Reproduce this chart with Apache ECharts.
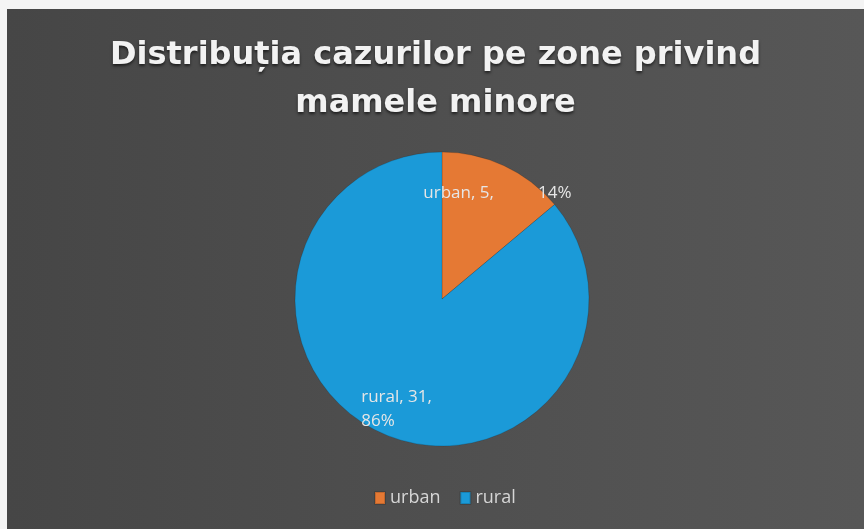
<!DOCTYPE html>
<html>
<head>
<meta charset="utf-8">
<script src="https://cdn.jsdelivr.net/npm/echarts@6/dist/echarts.min.js"></script>
<style>
  html, body { margin: 0; padding: 0; background: #f4f4f4; }
  #chart { position: absolute; left: 7px; top: 9px; width: 857px; height: 520px; }
</style>
</head>
<body>
<div id="chart"></div>
<script>
// values
var zones = ['urban', 'rural'];
var cases = [5, 31];
var zoneColors = ['#e57934', '#1b9ad8'];
var chartTitle = 'Distribuția cazurilor pe zone privind\nmamele minore';

var chartEl = document.getElementById('chart');
var myChart = echarts.init(chartEl);

var pieCenter = [435, 290];
var pieRadius = 147;

var pieData = zones.map(function (name, i) {
	return {
		name: name,
		value: cases[i],
		itemStyle: { color: zoneColors[i] },
		label: {
			// Excel style "name, value, percent"
			formatter: i === 0 ? '{b}, {c},          {d}%' : '{b}, {c},\n{d}%'
		}
	};
});

var option = {
	backgroundColor: {
		type: 'linear', x: 0, y: 0, x2: 1, y2: 0,
		colorStops: [
			{ offset: 0, color: '#464646' },
			{ offset: 0.5, color: '#4f4f4f' },
			{ offset: 1, color: '#575757' }
		]
	},
	title: {
		text: chartTitle,
		left: 'center',
		top: 18,
		textStyle: {
			color: '#f2f2f2',
			fontFamily: 'DejaVu Sans',
			fontSize: 32,
			fontWeight: 'bold',
			lineHeight: 48,
			textShadowColor: 'rgba(0,0,0,0.6)',
			textShadowBlur: 3,
			textShadowOffsetY: 2
		}
	},
	legend: {
		data: zones,
		bottom: 17,
		left: 362,
		icon: 'rect',
		itemWidth: 10,
		itemHeight: 12,
		itemGap: 19,
		textStyle: { color: '#d6d6d6', fontFamily: 'Open Sans', fontSize: 18 }
	},
	series: [{
		type: 'pie',
		center: pieCenter,
		radius: pieRadius,
		startAngle: 90,
		clockwise: true,
		animation: false,
		percentPrecision: 0,
		data: pieData,
		itemStyle: {
			borderColor: 'rgba(0,0,0,0.15)',
			borderWidth: 1
		},
		label: {
			position: 'inside',
			color: '#e6e6e6',
			fontFamily: 'Open Sans',
			fontSize: 17,
			lineHeight: 24
		},
		// push the labels out to about 0.78 of the radius and left-align them, like Excel does
		labelLayout: function (params) {
			var r = params.labelRect;
			var lx = r.x + r.width / 2, ly = r.y + r.height / 2;
			return {
				align: 'left',
				dx: (lx - pieCenter[0]) * 0.56 - r.width / 2 + 5,
				dy: (ly - pieCenter[1]) * 0.56 + 2
			};
		},
		emphasis: { disabled: true }
	}]
};

myChart.setOption(option);
</script>
</body>
</html>
